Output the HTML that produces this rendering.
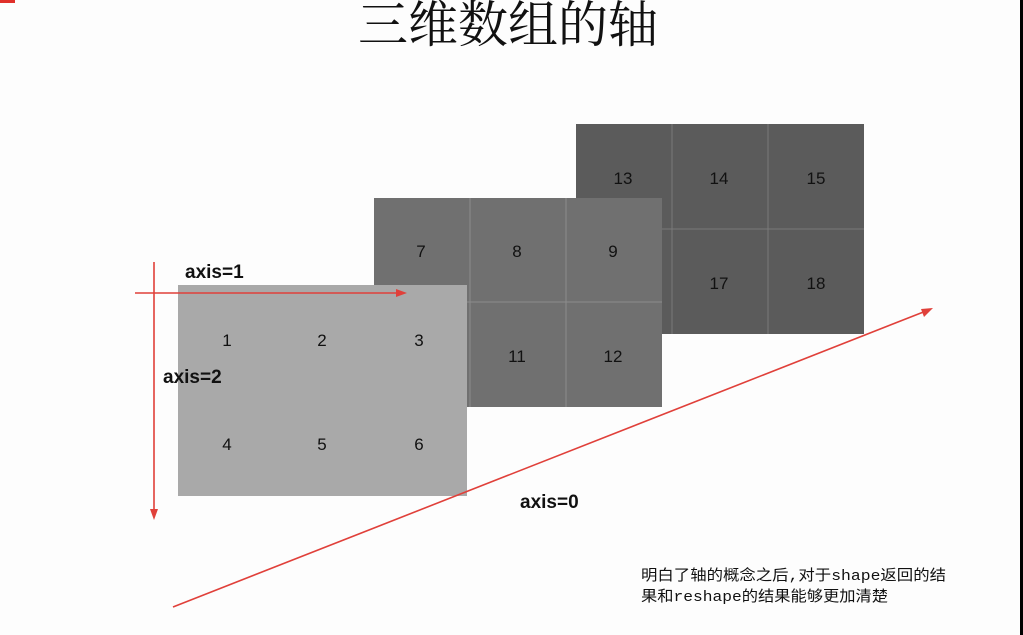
<!DOCTYPE html>
<html><head><meta charset="utf-8"><style>
html,body{margin:0;padding:0;background:#fff;width:1023px;height:635px;overflow:hidden}
</style></head><body>
<svg width="1023" height="635" xmlns="http://www.w3.org/2000/svg">
<rect x="0" y="0" width="1023" height="635" fill="#fdfdfd"/>
<rect x="1020" y="0" width="3" height="635" fill="#000"/>
<rect x="0" y="0" width="15" height="3" fill="#e0302a"/>
<text x="508" y="42" text-anchor="middle" font-family="'Liberation Serif','Noto Serif CJK SC',serif" font-size="50" fill="#111">三维数组的轴</text>

<g font-family="'Liberation Sans',sans-serif" font-size="17" text-anchor="middle" fill="#111">
<rect x="576" y="124" width="288" height="210" fill="#5b5b5b"/>
<line x1="672" y1="124" x2="672" y2="334" stroke="#7a7a7a"/>
<line x1="768" y1="124" x2="768" y2="334" stroke="#7a7a7a"/>
<line x1="576" y1="229" x2="864" y2="229" stroke="#7a7a7a"/>
<text x="623" y="184">13</text><text x="719" y="184">14</text><text x="816" y="184">15</text>
<text x="719" y="289">17</text><text x="816" y="289">18</text>

<rect x="374" y="198" width="288" height="209" fill="#707070"/>
<line x1="470" y1="198" x2="470" y2="407" stroke="#8c8c8c"/>
<line x1="566" y1="198" x2="566" y2="407" stroke="#8c8c8c"/>
<line x1="374" y1="302" x2="662" y2="302" stroke="#8c8c8c"/>
<text x="421" y="257">7</text><text x="517" y="257">8</text><text x="613" y="257">9</text>
<text x="517" y="362">11</text><text x="613" y="362">12</text>

<rect x="178" y="285" width="289" height="211" fill="#a9a9a9"/>
<text x="227" y="346">1</text><text x="322" y="346">2</text><text x="419" y="346">3</text>
<text x="227" y="450">4</text><text x="322" y="450">5</text><text x="419" y="450">6</text>
</g>

<g stroke="#e0403a" stroke-width="1.6" fill="#e0403a">
<line x1="135" y1="293" x2="400" y2="293"/>
<polygon points="407,293 396,289 396,297" stroke="none"/>
<line x1="154" y1="262" x2="154" y2="512"/>
<polygon points="154,520 150,509 158,509" stroke="none"/>
<line x1="173" y1="607" x2="926" y2="311"/>
<polygon points="933,308 921,309 924,317" stroke="none"/>
</g>

<g font-family="'Liberation Sans',sans-serif" font-size="19" font-weight="bold" fill="#111">
<text x="185" y="278">axis=1</text>
<text x="163" y="383">axis=2</text>
<text x="520" y="508">axis=0</text>
</g>

<g font-family="'Liberation Mono','Noto Sans CJK SC',monospace" font-size="15" fill="#111">
<text x="641" y="580" textLength="305" lengthAdjust="spacingAndGlyphs">明白了轴的概念之后,对于shape返回的结</text>
<text x="641" y="601" textLength="247" lengthAdjust="spacingAndGlyphs">果和reshape的结果能够更加清楚</text>
</g>
</svg>
</body></html>
